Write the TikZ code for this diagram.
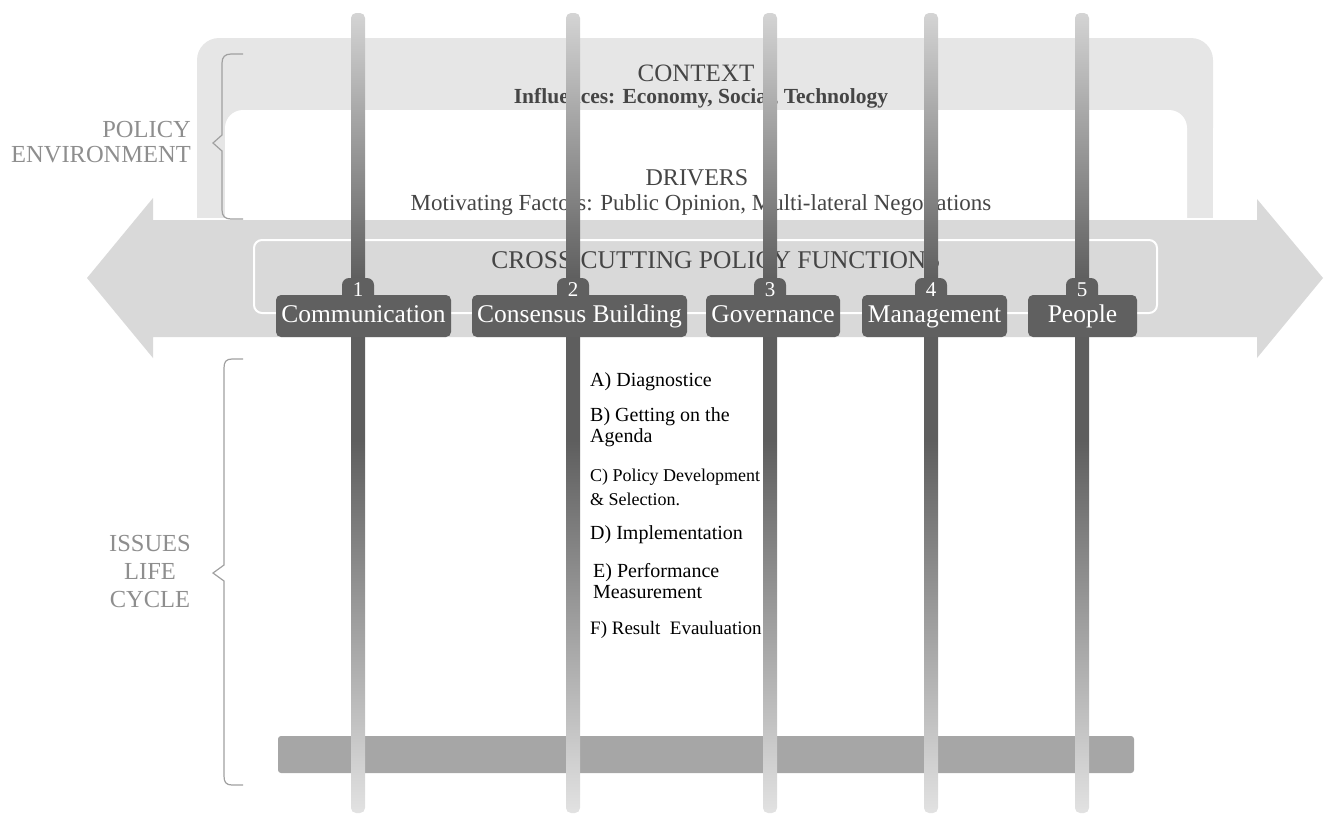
\documentclass[tikz,border=0pt]{standalone}
\usepackage{fontspec}
\setmainfont{Liberation Serif}
\definecolor{band}{HTML}{E6E6E6}
\definecolor{arrowc}{HTML}{D9D9D9}
\definecolor{nodec}{HTML}{606060}
\definecolor{txt}{HTML}{454545}
\definecolor{lbl}{HTML}{8E8E8E}
\definecolor{barc}{HTML}{A6A6A6}
\definecolor{pilL}{HTML}{D4D4D4}
\definecolor{pilD}{HTML}{5E5E5E}
\definecolor{pilB}{HTML}{E2E2E2}
\definecolor{bracec}{HTML}{A0A0A0}
\newcommand\myfs[2]{\fontsize{#1}{#2}\selectfont}
\pgfdeclareverticalshading{pillarshade}{100bp}{color(0bp)=(pilB); color(25bp)=(pilB); color(48.3bp)=(pilD); color(58.3bp)=(pilD); color(75bp)=(pilL); color(100bp)=(pilL)}
\begin{document}
\begin{tikzpicture}[x=1pt,y=-1pt,
  func/.style={fill=nodec, rounded corners=5pt, text=white, font=\myfs{25.5}{25.5}, inner sep=0pt, minimum height=42pt, text height=17pt, text depth=4pt},
  tab/.style={fill=nodec, rounded corners=7pt, text=white, font=\myfs{21}{21}, inner sep=0pt, minimum width=32pt, minimum height=24pt, text height=13pt, text depth=0pt},
  title/.style={text=txt, font=\myfs{25}{25}, inner sep=0pt},
  sub/.style={text=txt, font=\myfs{22}{22}, inner sep=0pt},
  side/.style={text=lbl, inner sep=0pt},
  item/.style={text=black, font=\myfs{20}{21}, inner sep=0pt, align=left, anchor=west},
  bracep/.style={draw=bracec, line width=1.2pt}
]
\useasboundingbox (0,0) rectangle (1329,815);
% context band
\fill[band, rounded corners=22pt] (197,38) rectangle (1213,150);
\fill[band] (197,100) rectangle (225,218);
\fill[band] (1187,100) rectangle (1213,218);
\fill[white, rounded corners=18pt] (225,110) rectangle (1187,260);
% big double arrow
\fill[arrowc] (87,278) -- (153,198) -- (153,220) -- (1257,220) -- (1257,199) -- (1323,278) -- (1257,358) -- (1257,337) -- (153,337) -- (153,358) -- cycle;
% outline of cross-cutting area
\draw[white, line width=2pt, rounded corners=8pt] (254,240) rectangle (1157,313);
% titles
\node[title] (context) at (696,73) {CONTEXT};
\node[sub, font=\myfs{21.5}{21.5}\bfseries] (infl) at (701,98) {Influences: Economy, Social, Technology};
\node[title, font=\myfs{24}{24}] (drivers) at (697,178) {DRIVERS};
\node[sub, font=\myfs{23}{23}] (motiv) at (701,205) {Motivating Factors: Public Opinion, Multi-lateral Negotiations};
\node[title, font=\myfs{25.5}{25.5}] (cross) at (716,260) {CROSS-CUTTING POLICY FUNCTIONS};
% bottom bar
\fill[barc, rounded corners=3pt] (278,736) rectangle (1134,773);
% pillars
\foreach \px in {358,573,770,931,1082}{
  \shade[shading=pillarshade, rounded corners=5pt] (\px-7,13) rectangle (\px+7,813);
}
% function nodes
\node[func, minimum width=175pt] (f1) at (363.5,316) {Communication};
\node[func, minimum width=215pt] (f2) at (579.5,316) {Consensus Building};
\node[func, minimum width=134pt] (f3) at (773,316) {Governance};
\node[func, minimum width=145pt] (f4) at (934.5,316) {Management};
\node[func, minimum width=109pt] (f5) at (1082.5,316) {People};
\node[tab] (t1) at (358,290) {1};
\node[tab] (t2) at (573,290) {2};
\node[tab] (t3) at (770,290) {3};
\node[tab] (t4) at (931,290) {4};
\node[tab] (t5) at (1082,290) {5};
% life cycle list
\node[item] (ia) at (590,382) {A) Diagnostice};
\node[item] (ib) at (590,427.5) {B) Getting on the\\Agenda};
\node[item, font=\myfs{18}{24}] (ic) at (590,487.5) {C) Policy Development\\\& Selection.};
\node[item] (id) at (590,535) {D) Implementation};
\node[item] (ie) at (593,581) {E) Performance\\Measurement};
\node[item, font=\myfs{19}{21}] (if) at (590,630) {F) Result\ \ Evauluation};
% side labels
\node[side, font=\myfs{24.5}{25}, align=right, anchor=east] (pe) at (191,142) {POLICY\\ENVIRONMENT};
\node[side, font=\myfs{24.5}{28}, align=center] (ilc) at (150,571) {ISSUES\\LIFE\\CYCLE};
% braces
\draw[bracep] (243,54) -- (231,54) .. controls (225,54) and (222,57) .. (222,63) -- (222,135) -- (213,143) -- (222,151) -- (222,210) .. controls (222,216) and (225,219) .. (231,219) -- (243,219);
\draw[bracep] (243,359) -- (232,359) .. controls (226,359) and (224,362) .. (224,368) -- (224,565) -- (213,573) -- (224,581) -- (224,776) .. controls (224,782) and (226,785) .. (232,785) -- (243,785);
\end{tikzpicture}
\end{document}
